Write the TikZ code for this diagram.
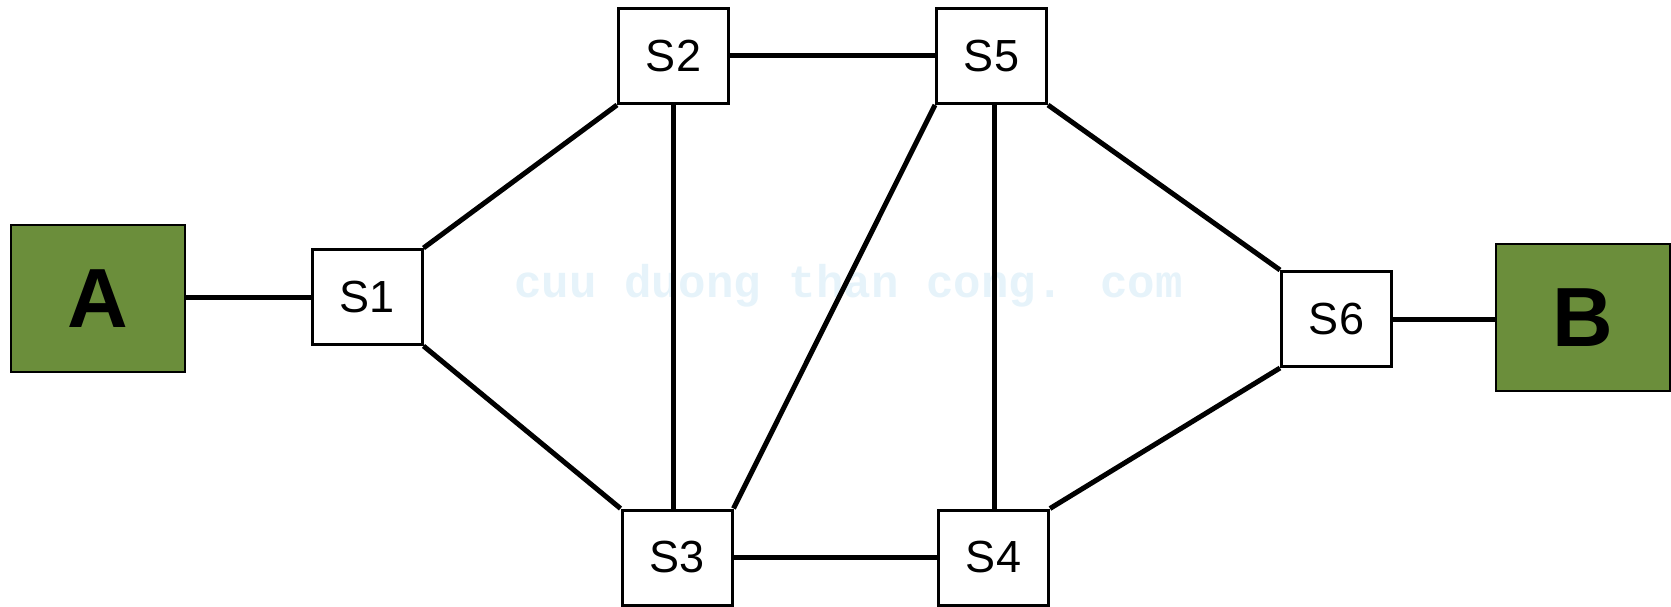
\documentclass[tikz,border=0pt]{standalone}
\usepackage{fontspec}
\setmainfont{Liberation Sans}
\newfontfamily\wmfont{Liberation Mono}
\definecolor{boxgreen}{RGB}{107,142,59}
\definecolor{wmblue}{RGB}{230,243,250}
\begin{document}
\begin{tikzpicture}[x=1pt,y=-1pt,
  sw/.style={draw=black,line width=3pt,fill=white,minimum width=110pt,minimum height=95pt,inner sep=0pt,
    font=\fontsize{45}{54}\selectfont},
  endpt/.style={draw=black,line width=2pt,fill=boxgreen,minimum width=174pt,minimum height=147pt,inner sep=0pt,
    font=\fontsize{84}{100}\selectfont\bfseries},
  link/.style={line width=5pt}]
\useasboundingbox (0,0) rectangle (1671,607);
\node[text=wmblue,font=\wmfont\bfseries\fontsize{45.8}{50}\selectfont,anchor=base,inner sep=0pt] (wm) at (848.5,297) {cuu duong than cong. com};
\node[endpt] (A) at (98,298.5) {A};
\node[endpt] (B) at (1583,317.5) {B};
\node[sw] (S1) at (367,297) {S1};
\node[sw] (S2) at (673.5,56) {S2};
\node[sw] (S3) at (677,557.5) {S3};
\node[sw] (S4) at (993.5,557.5) {S4};
\node[sw] (S5) at (991.5,56) {S5};
\node[sw] (S6) at (1336.5,319) {S6};
\draw[link] (A.east |- S1.west) -- (S1.west);
\draw[link] (S6.east) -- (S6.east -| B.west);
\draw[link] (S1.north east) -- (S2.south west);
\draw[link] (S1.south east) -- (S3.north west);
\draw[link] (S2.east) -- (S5.west);
\draw[link] (S2.south) -- (S2.south |- S3.north);
\draw[link] (S3.north east) -- (S5.south west);
\draw[link] (S3.east) -- (S4.west);
\draw[link] ([xshift=3pt]S5.south) -- ([xshift=3pt]S5.south |- S4.north);
\draw[link] (S5.south east) -- (S6.north west);
\draw[link] (S4.north east) -- (S6.south west);
\end{tikzpicture}
\end{document}
